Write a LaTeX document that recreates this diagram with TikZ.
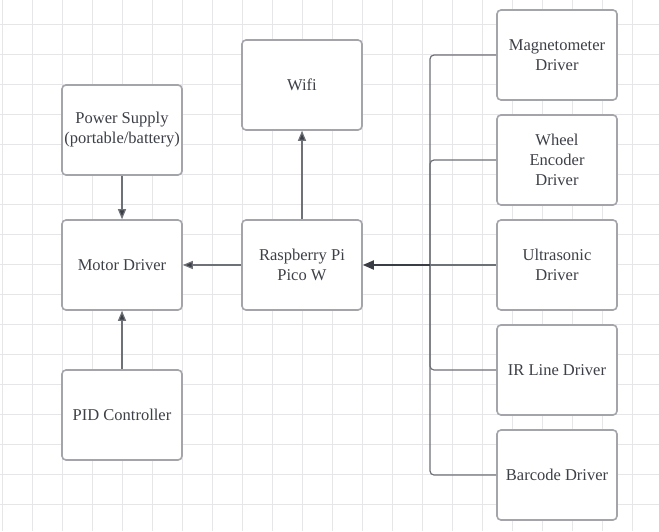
\documentclass[tikz,border=0pt]{standalone}
\usepackage{fontspec}
\setmainfont{Liberation Serif}
\usetikzlibrary{arrows.meta}
\definecolor{gridc}{HTML}{E6E6E8}
\definecolor{boxc}{HTML}{A3A5AA}
\definecolor{linec}{HTML}{6E7177}
\definecolor{textc}{HTML}{3D4047}
\definecolor{headc}{HTML}{3A3D45}
\tikzset{
  blk/.style={draw=boxc, line width=1.6pt, rounded corners=4pt, fill=white,
    minimum width=120pt, minimum height=90pt, inner sep=2pt, align=center,
    text=textc, font=\fontsize{16.5}{20}\selectfont},
  conn/.style={draw=linec, line width=1.2pt, rounded corners=4pt},
  arr/.style={conn, -{Triangle[length=10pt,width=8pt,fill=headc]}},
  busarr/.style={draw=headc, line width=1.8pt, -{Triangle[length=11pt,width=9pt,fill=headc]}}
}
\begin{document}
\begin{tikzpicture}[x=1pt,y=-1pt]
\useasboundingbox (0,0) rectangle (659,531);
\fill[white] (0,0) rectangle (659,531);
\foreach \i in {0,...,21} {\draw[gridc, line width=1pt] ({2.7+30*\i},0) -- ({2.7+30*\i},531);}
\foreach \j in {0,...,17} {\draw[gridc, line width=1pt] (0,{24.3+30*\j}) -- (659,{24.3+30*\j});}

\node[blk] (power) at (122,130) {Power Supply\\(portable/battery)};
\node[blk] (motor) at (122,265) {Motor Driver};
\node[blk] (pid) at (122,415) {PID Controller};
\node[blk] (wifi) at (302,85) {Wifi};
\node[blk] (pico) at (302,265) {Raspberry Pi\\Pico W};
\node[blk] (mag) at (557,55) {Magnetometer\\Driver};
\node[blk] (wheel) at (557,160) {Wheel\\Encoder\\Driver};
\node[blk] (ultra) at (557,265) {Ultrasonic\\Driver};
\node[blk] (ir) at (557,370) {IR Line Driver};
\node[blk] (bar) at (557,475) {Barcode Driver};
\coordinate (bus) at (430,265);

\draw[arr] (power) -- (motor);
\draw[arr] (pid) -- (motor);
\draw[arr] (pico) -- (motor);
\draw[arr] (pico) -- (wifi);

\draw[conn] (mag.west) -| (bus);
\draw[conn] (wheel.west) -| (bus);
\draw[conn] (ir.west) -| (bus);
\draw[conn] (bar.west) -| (bus);
\draw[conn] (ultra.west) -- (bus);
\draw[busarr] (bus) -- (pico.east);
\end{tikzpicture}
\end{document}
